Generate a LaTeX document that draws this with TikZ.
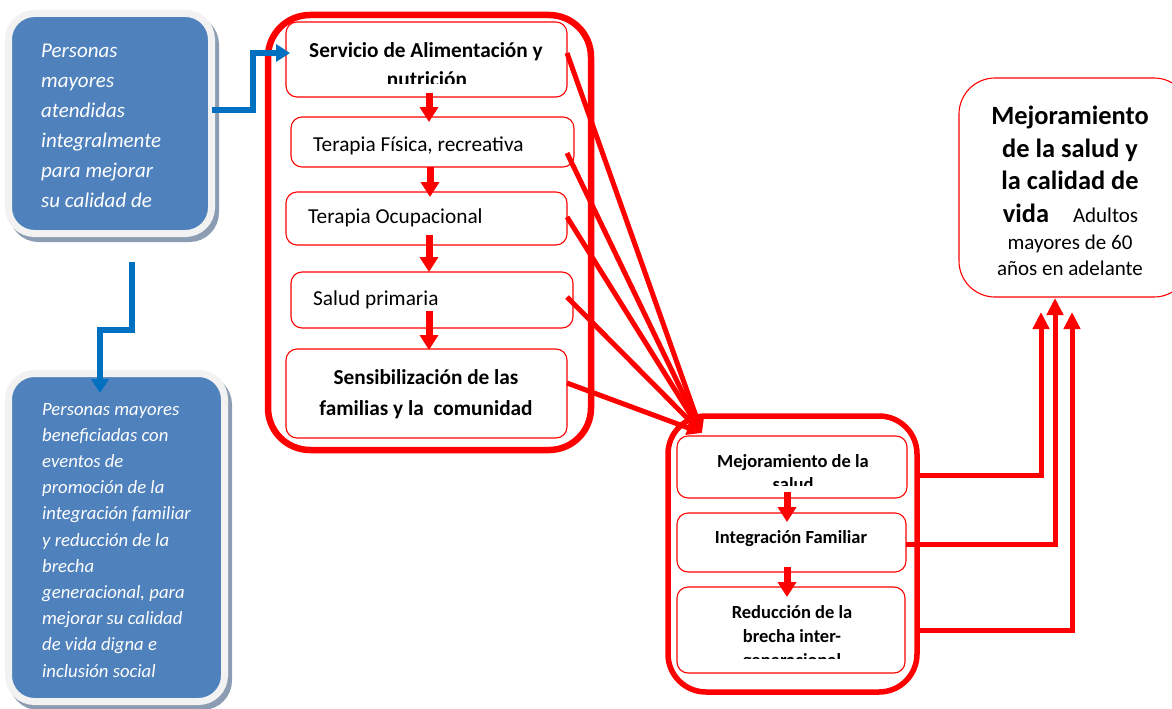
\documentclass[tikz,border=0pt]{standalone}
\usepackage{fontspec}
\setmainfont{Carlito}
\usetikzlibrary{arrows.meta,backgrounds}
\definecolor{boxblue}{HTML}{4F81BD}
\definecolor{lineblue}{HTML}{0070C0}
\definecolor{rimgray}{HTML}{F2F2F2}
\definecolor{shadowgray}{HTML}{8C9DB3}
\definecolor{pred}{HTML}{FF0000}
\begin{document}
\begin{tikzpicture}[x=1pt,y=-1pt,
  bluebox/.style={draw=rimgray, line width=7pt, fill=boxblue, rounded corners=26pt, inner sep=0pt, outer sep=0pt},
  bigred/.style={draw=pred, line width=6.5pt, rounded corners=42pt, inner sep=0pt, outer sep=0pt},
  smallred/.style={draw=pred, line width=1.1pt, rounded corners=11pt, inner sep=0pt, outer sep=0pt, fill=white},
  bluearrow/.style={draw=lineblue, line width=6pt, -{Triangle[length=14pt,width=17pt]}},
  flowarrow/.style={draw=pred, line width=7pt, -{Triangle[length=15pt,width=18pt]}},
  fanline/.style={draw=pred, line width=5pt, -{Triangle[length=15pt,width=14pt]}},
  outline/.style={draw=pred, line width=5pt, -{Triangle[length=17pt,width=16pt]}},
  ltxt/.style={inner sep=0pt, anchor=base west},
  ctxt/.style={inner sep=0pt, anchor=base},
  bigit/.style={font=\fontsize{21pt}{25pt}\selectfont\itshape, text=white},
  smallit/.style={font=\fontsize{18.7pt}{23pt}\selectfont\itshape, text=white},
  regtxt/.style={font=\fontsize{21.3pt}{26pt}\selectfont},
  boldtxt/.style={font=\fontsize{21.3pt}{26pt}\selectfont\bfseries},
  midbold/.style={font=\fontsize{18.5pt}{23pt}\selectfont\bfseries},
  hugebold/.style={font=\fontsize{26.4pt}{32pt}\selectfont\bfseries},
  outreg/.style={font=\fontsize{21pt}{26pt}\selectfont}
]
\useasboundingbox (0,0) rectangle (1172,709);

% blue boxes
\node[bluebox, minimum width=203pt, minimum height=220pt] (tl) at (110,123.5) {};
\node[bluebox, minimum width=216pt, minimum height=328pt] (bl) at (116.5,537.5) {};

\foreach \t [count=\i] in {Personas, mayores, atendidas, integralmente, para mejorar, su calidad de}
  \node[ltxt, bigit] (tlt\i) at (41,{27.5+30*\i}) {\t};

\foreach \t [count=\i] in {Personas mayores, beneficiadas con, eventos de, promoción de la, integración familiar, y reducción de la, brecha, {generacional, para}, mejorar su calidad, de vida digna e, inclusión social}
  \node[ltxt, smallit] (blt\i) at (42,{388.8+26.2*\i}) {\t};

% big red boxes
\node[bigred, minimum width=323pt, minimum height=435pt] (big1) at (429.5,232.5) {};
\node[bigred, line width=5.5pt, rounded corners=38pt, minimum width=249pt, minimum height=276pt] (big2) at (792.5,554) {};

% inner boxes of box 1
\node[smallred, minimum width=281pt, minimum height=75pt] (ser) at (426.5,59.5) {};
\node[smallred, minimum width=283pt, minimum height=50pt] (tf) at (432.5,142) {};
\node[smallred, minimum width=281pt, minimum height=53pt] (to) at (426.5,218.5) {};
\node[smallred, minimum width=282pt, minimum height=56pt] (sp) at (432,300) {};
\node[smallred, minimum width=281pt, minimum height=89pt] (sen) at (426.5,393.5) {};

\begin{scope}
  \clip (286,22) rectangle (567,83);
  \node[ctxt, boldtxt] (sert1) at (426,57) {Servicio de Alimentación y};
  \node[ctxt, boldtxt] (sert2) at (427,86) {nutrición};
\end{scope}
\node[ltxt, regtxt] (tft) at (313,151) {Terapia Física, recreativa};
\node[ltxt, regtxt] (tot) at (308,223) {Terapia Ocupacional};
\node[ltxt, regtxt] (spt) at (313,305) {Salud primaria};
\node[ctxt, boldtxt] (sent1) at (426,384) {Sensibilización de las};
\node[ctxt, boldtxt] (sent2) at (426,415) {familias y la\ \ comunidad};

% inner boxes of box 2
\node[smallred, minimum width=230pt, minimum height=62pt] (ma) at (792,467) {};
\node[smallred, minimum width=229pt, minimum height=59pt] (if) at (791.5,542.5) {};
\node[smallred, minimum width=228pt, minimum height=86pt] (rb) at (791,630) {};

\begin{scope}
  \clip (677,436) rectangle (907,485);
  \node[ctxt, midbold] (mat1) at (793,467) {Mejoramiento de la};
  \node[ctxt, midbold] (mat2) at (793,490) {salud};
\end{scope}
\node[ctxt, midbold] (ift) at (791,543) {Integración Familiar};
\begin{scope}
  \clip (677,587) rectangle (905,658);
  \node[ctxt, midbold] (rbt1) at (792,618) {Reducción de la};
  \node[ctxt, midbold] (rbt2) at (792,642) {brecha inter-};
  \node[ctxt, midbold] (rbt3) at (792,666) {generacional};
\end{scope}

% result box
\node[smallred, rounded corners=36pt, minimum width=231pt, minimum height=219pt] (out) at (1074.5,187.5) {};
\node[ctxt, hugebold] (out1) at (1070,124) {Mejoramiento};
\node[ctxt, hugebold] (out2) at (1070,157) {de la salud y};
\node[ctxt, hugebold] (out3) at (1070,189) {la calidad de};
\node[ctxt] (out4) at (1070.5,222) {{\fontsize{26.4pt}{32pt}\selectfont\bfseries vida}\hspace{24pt}{\fontsize{21pt}{26pt}\selectfont Adultos}};
\node[ctxt, outreg] (out5) at (1070,249) {mayores de 60};
\node[ctxt, outreg] (out6) at (1070,275) {años en adelante};

% blue connectors
\draw[bluearrow] ([yshift=13.5pt]tl.east) -- ++(41.5,0) |- ([xshift=4pt,yshift=6.5pt]ser.west);
\coordinate (b2s) at ([xshift=22pt,yshift=-28.5pt]tl.south);
\draw[bluearrow] (b2s) -- ++(0,68) -| ([xshift=-16.5pt,yshift=-19.5pt]bl.north);

% flow arrows inside box 1
\draw[flowarrow] ([xshift=2.5pt,yshift=4pt]ser.south) -- ([xshift=-3.5pt,yshift=-5pt]tf.north);
\draw[flowarrow] ([xshift=-2.5pt]tf.south) -- ([xshift=3.5pt,yshift=-5pt]to.north);
\draw[flowarrow] ([xshift=2.5pt,yshift=10pt]to.south) -- ([xshift=-3pt]sp.north);
\draw[flowarrow] ([xshift=-3pt,yshift=17pt]sp.south) -- ([xshift=2.5pt,yshift=-1pt]sen.north);

% flow arrows inside box 2
\draw[flowarrow] ([xshift=-5pt,yshift=6pt]ma.south) -- ([xshift=-4.5pt,yshift=-9pt]if.north);
\draw[flowarrow] ([xshift=-4.5pt,yshift=5pt]if.south) -- ([xshift=-4pt,yshift=-10pt]rb.north);

% fan of lines into box 2
\coordinate (conv) at ([xshift=34pt,yshift=-17pt]big2.north west);
\draw[fanline] ([yshift=6.5pt]ser.east) -- (conv);
\draw[fanline] ([xshift=-7pt,yshift=-11pt]tf.east) -- (conv);
\draw[fanline] ([yshift=1.5pt]to.east) -- (conv);
\draw[fanline] ([xshift=-6pt,yshift=3pt]sp.east) -- (conv);
\draw[fanline] ([yshift=10.5pt]sen.east) -- (conv);

% connectors to result box
\draw[outline] ([yshift=79pt]big2.east) -| ([xshift=-33.5pt,yshift=-15pt]out.south);
\draw[outline] ([yshift=-1.5pt]if.east) -| ([xshift=-19.5pt,yshift=-1pt]out.south);
\draw[outline] ([yshift=-76pt]big2.east) -| ([xshift=-2.5pt,yshift=-15pt]out.south);

\begin{scope}[on background layer]
  \fill[white] (0,0) rectangle (1172,709);
  \draw[shadowgray, fill=shadowgray, line width=7pt, rounded corners=26pt] (12.5,18.5) rectangle (215.5,238.5);
  \draw[shadowgray, fill=shadowgray, line width=7pt, rounded corners=26pt] (12.5,378.5) rectangle (228.5,706.5);
\end{scope}
\end{tikzpicture}
\end{document}
